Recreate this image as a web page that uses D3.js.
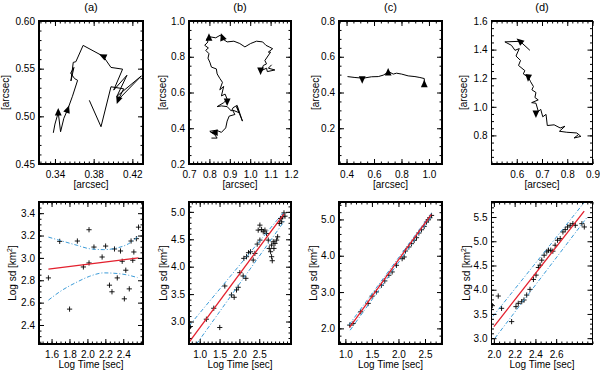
<!DOCTYPE html>
<html>
<head>
<meta charset="utf-8">
<script src="https://d3js.org/d3.v7.min.js"></script>
<style>
  body { margin: 0; background: #fff; }
  text { font-family: "Liberation Sans", Arial, sans-serif; fill: #000; }
  .frame { fill: none; stroke: #000; stroke-width: 1.4px; shape-rendering: crispEdges; }
  .fit { fill: none; stroke: #e3202e; stroke-width: 1.3px; }
  .conf { fill: none; stroke: #3b9bd8; stroke-width: 1px; stroke-dasharray: 4,2,1,2; }
  .track { fill: none; stroke: #000; stroke-width: 1px; stroke-linejoin: round; }
  .pt { fill: none; stroke: #000; stroke-width: 0.9px; }
</style>
</head>
<body>
<script>
var width = 600, height = 372;

var titles = ["(a)", "(b)", "(c)", "(d)"];

// top row: tracks on the sky [arcsec]
var pathA = [[0.3383,0.4827],[0.3400,0.4919],[0.3434,0.5040],[0.3458,0.4838],[0.3492,0.4980],[0.3530,0.5069],
  [0.3581,0.5211],[0.3634,0.5378],[0.3603,0.5396],[0.3562,0.5453],[0.3596,0.5513],[0.3565,0.5371],[0.3589,0.5566],
  [0.3616,0.5573],[0.3691,0.5744],[0.3899,0.5630],[0.3979,0.5513],[0.4099,0.5495],[0.4007,0.5275],[0.4144,0.5431],
  [0.4041,0.5211],[0.4293,0.5424],[0.4055,0.5175],[0.4110,0.5289],[0.3979,0.5310],[0.3876,0.4891],[0.3755,0.5168]];
var pathB = [[0.810,0.345],[0.838,0.345],[0.826,0.364],[0.802,0.383],[0.834,0.389],[0.859,0.377],[0.880,0.402],
  [0.887,0.440],[0.897,0.468],[0.925,0.477],[0.913,0.502],[0.946,0.487],[0.933,0.521],[0.962,0.440],[0.936,0.528],
  [0.916,0.515],[0.908,0.496],[0.887,0.521],[0.859,0.525],[0.838,0.521],[0.870,0.543],[0.887,0.562],[0.877,0.591],
  [0.859,0.581],[0.870,0.634],[0.851,0.615],[0.864,0.657],[0.851,0.679],[0.838,0.704],[0.834,0.732],[0.810,0.742],
  [0.802,0.770],[0.793,0.792],[0.798,0.817],[0.782,0.836],[0.795,0.849],[0.777,0.864],[0.793,0.883],[0.785,0.898],
  [0.805,0.911],[0.831,0.906],[0.854,0.921],[0.867,0.898],[0.887,0.883],[0.920,0.887],[0.949,0.874],[0.974,0.855],
  [1.002,0.874],[1.031,0.887],[1.061,0.883],[1.077,0.864],[1.093,0.855],[1.110,0.845],[1.089,0.826],[1.100,0.826],
  [1.072,0.779],[1.080,0.760],[1.064,0.751],[1.056,0.723],[1.080,0.736],[1.084,0.717],[1.121,0.726],[1.089,0.736],
  [1.105,0.755]];
var pathC = [[0.407,0.489],[0.461,0.484],[0.521,0.480],[0.582,0.488],[0.631,0.489],[0.667,0.497],[0.691,0.508],
  [0.708,0.516],[0.740,0.503],[0.764,0.508],[0.801,0.503],[0.849,0.493],[0.898,0.489],[0.934,0.484],[0.966,0.478],
  [0.966,0.450]];
var pathD = [[0.652,1.395],[0.613,1.458],[0.553,1.454],[0.579,1.430],[0.593,1.395],[0.610,1.407],[0.597,1.355],
  [0.615,1.324],[0.607,1.289],[0.632,1.253],[0.626,1.230],[0.646,1.206],[0.655,1.175],[0.666,1.142],[0.660,1.119],
  [0.676,1.100],[0.672,1.065],[0.685,1.048],[0.659,1.029],[0.676,1.025],[0.685,0.970],[0.676,0.954],[0.695,0.982],
  [0.703,0.930],[0.716,0.947],[0.721,0.869],[0.748,0.874],[0.772,0.852],[0.791,0.864],[0.769,0.829],[0.798,0.822],
  [0.838,0.817],[0.854,0.793],[0.827,0.782],[0.844,0.805]];
// direction markers: x, y, heading (deg, screen)
var arrowsA = [[0.3434,0.5040,-90],[0.3530,0.5069,-70],[0.3899,0.5630,-155],[0.4055,0.5175,110]];
var arrowsB = [[0.826,0.376,180],[0.887,0.550,90],[0.798,0.906,-90],[0.864,0.908,-110],[1.051,0.723,90]];
var arrowsC = [[0.703,0.512,-90],[0.966,0.446,-90],[0.514,0.474,90]];
var arrowsD = [[0.613,1.458,-140],[0.646,1.206,95],[0.676,0.954,90]];

// bottom row: log sd vs log time
var ptsA = [[1.565,2.821],[1.691,3.148],[1.801,2.542],[1.888,3.151],[1.955,2.919],[2.018,2.955],[2.018,3.252],
  [2.073,3.097],[2.164,3.008],[2.203,3.106],[2.246,2.756],[2.274,2.697],[2.302,3.080],[2.333,2.821],[2.369,3.062],
  [2.388,2.970],[2.428,2.890],[2.412,2.634],[2.467,2.723],[2.487,3.151],[2.506,2.979],[2.518,3.053],[2.546,3.172],
  [2.570,3.275]];
var fitA = [[1.565,2.90],[2.57,3.00]];
var upA = [[1.565,3.186],[1.691,3.157],[1.888,3.112],[2.026,3.082],[2.183,3.074],[2.341,3.091],[2.459,3.127],[2.558,3.186]];
var loA = [[1.565,2.622],[1.691,2.697],[1.888,2.786],[2.026,2.836],[2.183,2.866],[2.341,2.860],[2.459,2.845],[2.558,2.824]];

var ptsB = [[0.764,2.909],[1.168,3.042],[1.354,3.242],[1.505,2.891],[1.632,3.648],[1.800,3.485],[1.868,3.442],
  [1.927,3.576],[1.969,3.624],[2.011,3.891],[2.095,3.830],[2.163,3.788],[2.112,4.152],[2.179,4.182],[2.230,4.255],
  [2.281,4.273],[2.348,4.121],[2.390,4.242],[2.449,4.412],[2.474,4.667],[2.516,4.758],[2.559,4.679],[2.601,4.636],
  [2.643,4.667],[2.685,4.606],[2.516,4.485],[2.727,4.485],[2.752,4.333],[2.786,4.273],[2.811,4.394],[2.811,4.182],
  [2.828,4.109],[2.853,4.455],[2.870,4.333],[2.896,4.424],[2.938,4.485],[2.963,4.545],[3.005,4.788],[3.039,4.879],
  [3.064,4.818],[3.089,4.909],[3.123,4.982],[3.148,4.921]];
var fitB = [[0.73,2.62],[3.12,4.96]];
var upB = [[0.73,2.92],[3.10,4.98]];
var loB = [[0.92,2.59],[3.16,4.86]];

var ptsC = [[1.082,2.091],[1.145,2.136],[1.289,2.457],[1.428,2.685],[1.503,2.887],[1.585,3.005],[1.679,3.188],
  [1.742,3.307],[1.818,3.463],[1.881,3.554],[1.962,3.737],[2.069,3.920],[2.107,3.966],[2.132,4.131],[2.195,4.241],
  [2.245,4.332],[2.296,4.424],[2.340,4.497],[2.384,4.625],[2.434,4.716],[2.484,4.808],[2.528,4.927],[2.560,4.991],
  [2.591,5.046],[2.623,5.110]];
var fitC = [[1.08,2.03],[2.62,5.14]];
var upC = [[1.07,2.10],[2.62,5.17]];
var loC = [[1.09,1.95],[2.62,5.08]];

var ptsD = [[1.985,3.671],[2.042,3.870],[2.074,3.616],[2.171,3.342],[2.213,3.651],[2.235,3.719],[2.268,3.753],
  [2.290,3.788],[2.316,3.890],[2.348,4.007],[2.381,4.212],[2.406,4.301],[2.429,4.459],[2.445,4.507],[2.461,4.610],
  [2.484,4.712],[2.510,4.781],[2.526,4.815],[2.548,4.815],[2.568,4.795],[2.590,4.918],[2.613,5.021],[2.639,5.055],
  [2.665,5.192],[2.687,5.240],[2.710,5.295],[2.735,5.329],[2.761,5.363],[2.784,5.329],[2.848,5.363],[2.871,5.295]];
var fitD = [[2.0,3.24],[2.87,5.62]];
var upD = [[1.99,3.45],[2.87,5.80]];
var loD = [[2.01,3.00],[2.90,5.50]];

// axes
var topXDom = [[0.3235,0.431],[0.7,1.2],[0.345,1.095],[0.5,0.9]];
var topYDom = [[0.45,0.60],[0.2,1.0],[0.0,0.8],[0.6,1.6]];
var topXTicks = [[0.34,0.38,0.42],[0.7,0.8,0.9,1.0,1.1,1.2],[0.4,0.6,0.8,1.0],[0.6,0.7,0.8,0.9]];
var topYTicks = [[0.45,0.50,0.55,0.60],[0.2,0.4,0.6,0.8,1.0],[0.2,0.4,0.6,0.8],[0.8,1.0,1.2,1.4,1.6]];
var topXMinor = [0.005,0.02,0.05,0.02];
var topYMinor = [0.01,0.05,0.05,0.05];

var botXDom = [[1.46,2.62],[0.73,3.30],[0.88,2.82],[1.977,2.95]];
var botYDom = [[2.23,3.5],[2.59,5.18],[1.57,5.48],[2.88,5.81]];
var botXTicks = [[1.6,1.8,2.0,2.2,2.4],[1.0,1.5,2.0,2.5],[1.0,1.5,2.0,2.5],[2.0,2.2,2.4,2.6]];
var botYTicks = [[2.4,2.6,2.8,3.0,3.2,3.4],[3.0,3.5,4.0,4.5,5.0],[2.0,3.0,4.0,5.0],[3.0,3.5,4.0,4.5,5.0,5.5]];
var botXMinor = [0.05,0.1,0.1,0.05];
var botYMinor = [0.05,0.1,0.2,0.1];

// layout
var colX = [39, 189, 339, 491.5];
var colW = [104, 102, 103, 101];
var rowY = [21, 202];
var rowH = [143, 142];
var topYLabOff = [34, 27, 24, 28];
var botYLabOff = [27, 26, 26, 25];

var svg = d3.select("body").append("svg")
    .attr("width", width)
    .attr("height", height);

function minorTicks(dom, step) {
  var out = [];
  for (var k = Math.ceil(dom[0] / step - 1e-6); k <= Math.floor(dom[1] / step + 1e-6); k++) {
    out.push(+(k * step).toFixed(6));
  }
  return out;
}

// IDL-style box: inward ticks on all four sides, labels only left/bottom
function box(g, x, y, w, h, xt, yt, xStep, yStep, xf, yf) {
  var xm = minorTicks(x.domain(), xStep), ym = minorTicks(y.domain(), yStep);
  function add(axis, tx, ty) {
    var a = g.append("g").attr("transform", "translate(" + tx + "," + ty + ")").call(axis);
    a.select(".domain").remove();
    a.attr("font-family", null).attr("font-size", 10);
    a.selectAll(".tick line").attr("stroke", "#000").attr("stroke-width", 1);
  }
  add(d3.axisBottom(x).tickValues(xm).tickSize(-2.5).tickFormat(""), 0, h);
  add(d3.axisTop(x).tickValues(xm).tickSize(-2.5).tickFormat(""), 0, 0);
  add(d3.axisLeft(y).tickValues(ym).tickSize(-2.5).tickFormat(""), 0, 0);
  add(d3.axisRight(y).tickValues(ym).tickSize(-2.5).tickFormat(""), w, 0);
  add(d3.axisBottom(x).tickValues(xt).tickSize(-5).tickPadding(6.5).tickFormat(xf), 0, h);
  add(d3.axisTop(x).tickValues(xt).tickSize(-5).tickFormat(""), 0, 0);
  add(d3.axisLeft(y).tickValues(yt).tickSize(-5).tickPadding(4).tickFormat(yf), 0, 0);
  add(d3.axisRight(y).tickValues(yt).tickSize(-5).tickFormat(""), w, 0);
  g.append("rect").attr("class", "frame").attr("width", w).attr("height", h);
}

var tracks = [pathA, pathB, pathC, pathD];
var arrows = [arrowsA, arrowsB, arrowsC, arrowsD];
var pts = [ptsA, ptsB, ptsC, ptsD];
var fits = [fitA, fitB, fitC, fitD];
var ups = [upA, upB, upC, upD];
var los = [loA, loB, loC, loD];

for (var i = 0; i < 4; i++) {
  var w = colW[i];

  // ---- top: track ----
  var h = rowH[0];
  var g = svg.append("g").attr("transform", "translate(" + colX[i] + "," + rowY[0] + ")");
  var x = d3.scaleLinear().domain(topXDom[i]).range([0, w]);
  var y = d3.scaleLinear().domain(topYDom[i]).range([h, 0]);

  g.append("text").attr("x", w / 2).attr("y", -10.5).attr("text-anchor", "middle")
    .attr("font-size", 11).text(titles[i]);

  var line = d3.line().x(function(d) { return x(d[0]); }).y(function(d) { return y(d[1]); });
  g.append("path").datum(tracks[i]).attr("class", "track").attr("d", line);

  g.selectAll(".arrow").data(arrows[i]).enter().append("path")
    .attr("class", "arrow")
    .attr("d", "M4.5,0L-3,-3.4L-3,3.4Z")
    .attr("fill", "#000")
    .attr("transform", function(d) { return "translate(" + x(d[0]) + "," + y(d[1]) + ") rotate(" + d[2] + ")"; });

  var f2 = i === 0 ? d3.format(".2f") : d3.format(".1f");
  box(g, x, y, w, h, topXTicks[i], topYTicks[i], topXMinor[i], topYMinor[i], f2, f2);

  g.append("text").attr("x", w / 2).attr("y", h + 23.5).attr("text-anchor", "middle")
    .attr("font-size", 10).text("[arcsec]");
  g.append("text").attr("transform", "translate(" + (-topYLabOff[i] + 3.5) + "," + (h / 2) + ") rotate(-90)")
    .attr("text-anchor", "middle").attr("font-size", 10).text("[arcsec]");

  // ---- bottom: log sd vs log time ----
  h = rowH[1];
  g = svg.append("g").attr("transform", "translate(" + colX[i] + "," + rowY[1] + ")");
  x = d3.scaleLinear().domain(botXDom[i]).range([0, w]);
  y = d3.scaleLinear().domain(botYDom[i]).range([h, 0]);
  line = d3.line().x(function(d) { return x(d[0]); }).y(function(d) { return y(d[1]); });
  var smooth = d3.line().curve(d3.curveMonotoneX).x(function(d) { return x(d[0]); }).y(function(d) { return y(d[1]); });

  var cid = "clip" + i;
  g.append("clipPath").attr("id", cid).append("rect").attr("width", w).attr("height", h);
  var inner = g.append("g").attr("clip-path", "url(#" + cid + ")");

  inner.selectAll(".pt").data(pts[i]).enter().append("path")
    .attr("class", "pt")
    .attr("d", "M-2.6,0H2.6M0,-2.6V2.6")
    .attr("transform", function(d) { return "translate(" + x(d[0]) + "," + y(d[1]) + ")"; });

  inner.append("path").datum(ups[i]).attr("class", "conf").attr("d", smooth);
  inner.append("path").datum(los[i]).attr("class", "conf").attr("d", smooth);
  inner.append("path").datum(fits[i]).attr("class", "fit").attr("d", line);

  var fx = d3.format(".1f");
  box(g, x, y, w, h, botXTicks[i], botYTicks[i], botXMinor[i], botYMinor[i], fx, fx);

  g.append("text").attr("x", w / 2).attr("y", h + 24).attr("text-anchor", "middle")
    .attr("font-size", 10).text("Log Time [sec]");
  var yl = g.append("text").attr("transform", "translate(" + (-botYLabOff[i] + 3.5) + "," + (h / 2) + ") rotate(-90)")
    .attr("text-anchor", "middle").attr("font-size", 10);
  yl.append("tspan").text("Log sd [km");
  yl.append("tspan").attr("font-size", 7).attr("dy", -4).text("2");
  yl.append("tspan").attr("dy", 4).text("]");
}
</script>
</body>
</html>
